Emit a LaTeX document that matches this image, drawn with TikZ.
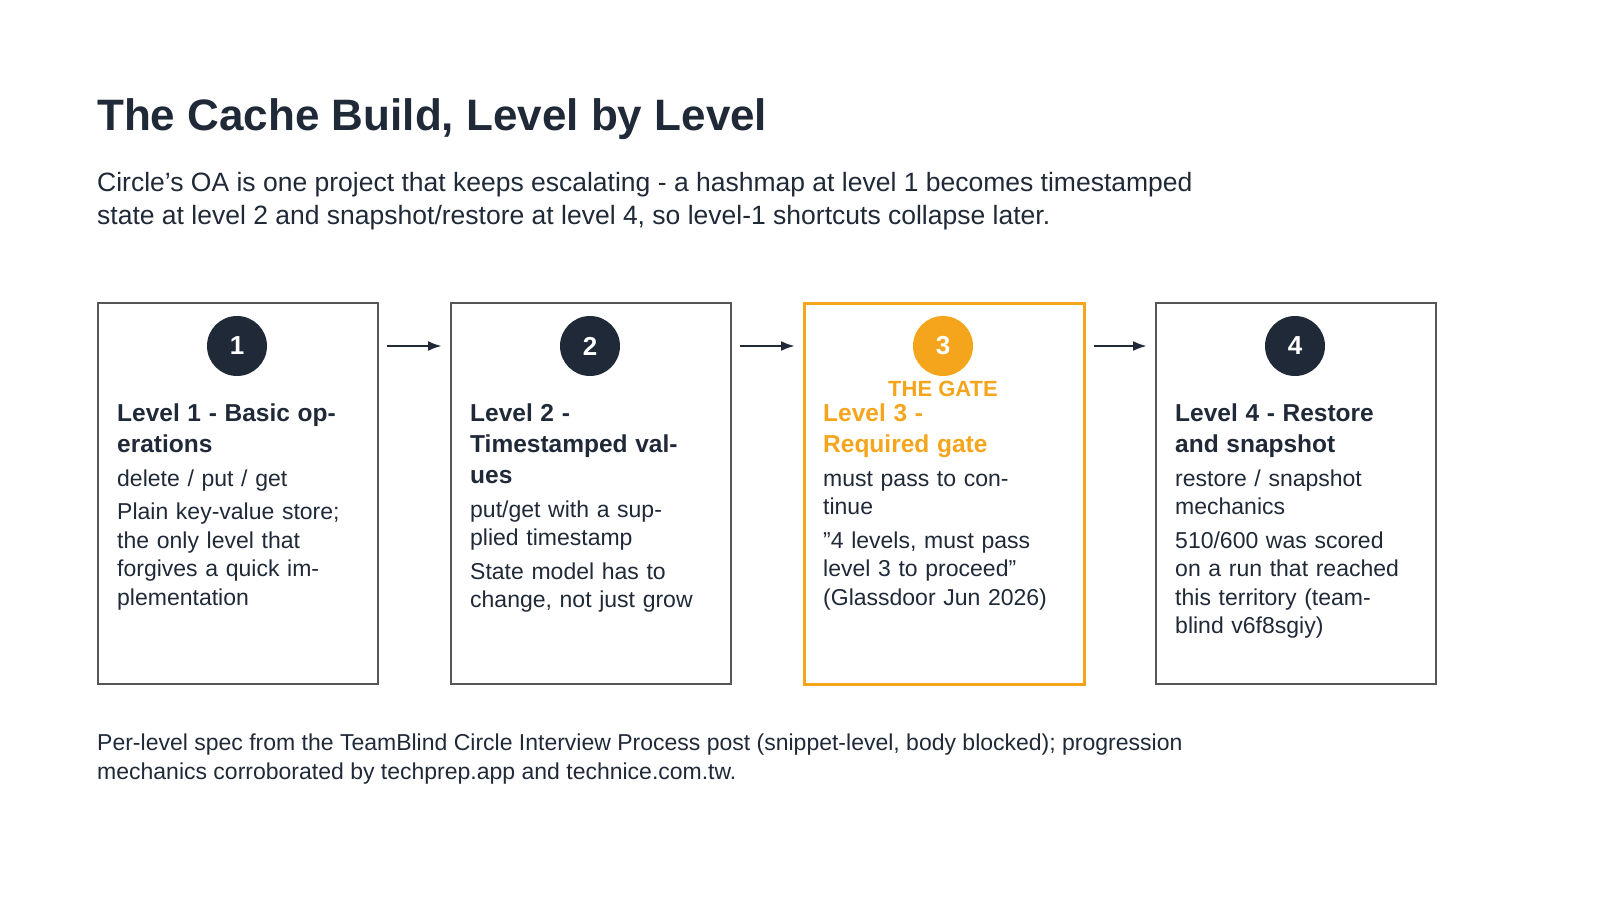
\documentclass[tikz,border=0pt]{standalone}
\usepackage{fontspec}
\setmainfont{Liberation Sans}
\usetikzlibrary{positioning,arrows.meta}
\definecolor{navy}{HTML}{1F2937}
\definecolor{gate}{HTML}{F4A51C}
\definecolor{boxline}{HTML}{555555}
\tikzset{
  level/.style={draw=boxline, line width=1.5pt, minimum width=280pt, minimum height=381pt, anchor=north west, inner sep=0pt},
  badge/.style={circle, fill=navy, minimum size=60pt, inner sep=0pt, text=white, font=\fontsize{26}{26}\selectfont\bfseries},
  body/.style={anchor=north west, text width=225pt, align=left, inner sep=0pt, text=navy, font=\fontsize{23}{28.5}\selectfont},
  next arrow/.style={-{Latex[length=14pt,width=10pt]}, line width=2.5pt, draw=navy}
}
\newcommand{\heading}[1]{{\fontsize{24.5}{31}\selectfont\bfseries #1\par}\vspace{5pt}}
\newcommand{\gap}{\par\vspace{5pt}}
\begin{document}
\begin{tikzpicture}[x=1pt, y=-1pt]
    \useasboundingbox (0,0) rectangle (1600,900);
    % title and intro
    \node[anchor=west, inner sep=0pt, text=navy, font=\fontsize{44}{44}\selectfont\bfseries] (title) at (97,119) {The Cache Build, Level by Level};
    \node[anchor=north west, inner sep=0pt, text=navy, align=left, font=\fontsize{26.5}{33}\selectfont] (intro) at (97,172) {Circle's OA is one project that keeps escalating - a hashmap at level 1 becomes timestamped\\state at level 2 and snapshot/restore at level 4, so level-1 shortcuts collapse later.};

    % the four levels
    \node[level] (box1) at (97,302) {};
    \node[level] (box2) at (450,302) {};
    \node[level, draw=gate, line width=3pt] (box3) at (803,302) {};
    \node[level] (box4) at (1155,302) {};

    \node[badge] (n1) at (237,346) {1};
    \node[badge] (n2) at (590,346) {2};
    \node[badge, fill=gate] (n3) at (943,346) {3};
    \node[badge] (n4) at (1295,346) {4};

    \node[text=gate, font=\fontsize{22}{22}\selectfont\bfseries] (gatelbl) at (943,389) {THE GATE};

    \node[body] (txt1) at (117,404) {\heading{Level 1 - Basic operations}delete / put / get\gap Plain key-value store; the only level that forgives a quick implementation};
    \node[body] (txt2) at (470,404) {\heading{Level 2 -\\Timestamped values}put/get with a supplied timestamp\gap State model has to change, not just grow};
    \node[body] (txt3) at (823,404) {{\color{gate}\heading{Level 3 -\\Required gate}}must pass to continue\gap "4 levels, must pass level 3 to proceed" (Glassdoor Jun 2026)};
    \node[body] (txt4) at (1175,404) {\heading{Level 4 - Restore and snapshot}restore / snapshot mechanics\gap 510/600 was scored on a run that reached this territory (teamblind v6f8sgiy)};

    % arrows between levels
    \draw[next arrow] ([xshift=8pt]box1.east |- n1) -- ([xshift=-8pt]box2.west |- n2);
    \draw[next arrow] ([xshift=8pt]box2.east |- n2) -- ([xshift=-8pt]box3.west |- n3);
    \draw[next arrow] ([xshift=8pt]box3.east |- n3) -- ([xshift=-8pt]box4.west |- n4);

    % source note
    \node[anchor=north west, inner sep=0pt, text=navy, align=left, font=\fontsize{23}{28.5}\selectfont] (note) at (97,734) {Per-level spec from the TeamBlind Circle Interview Process post (snippet-level, body blocked); progression\\mechanics corroborated by techprep.app and technice.com.tw.};
\end{tikzpicture}
\end{document}
